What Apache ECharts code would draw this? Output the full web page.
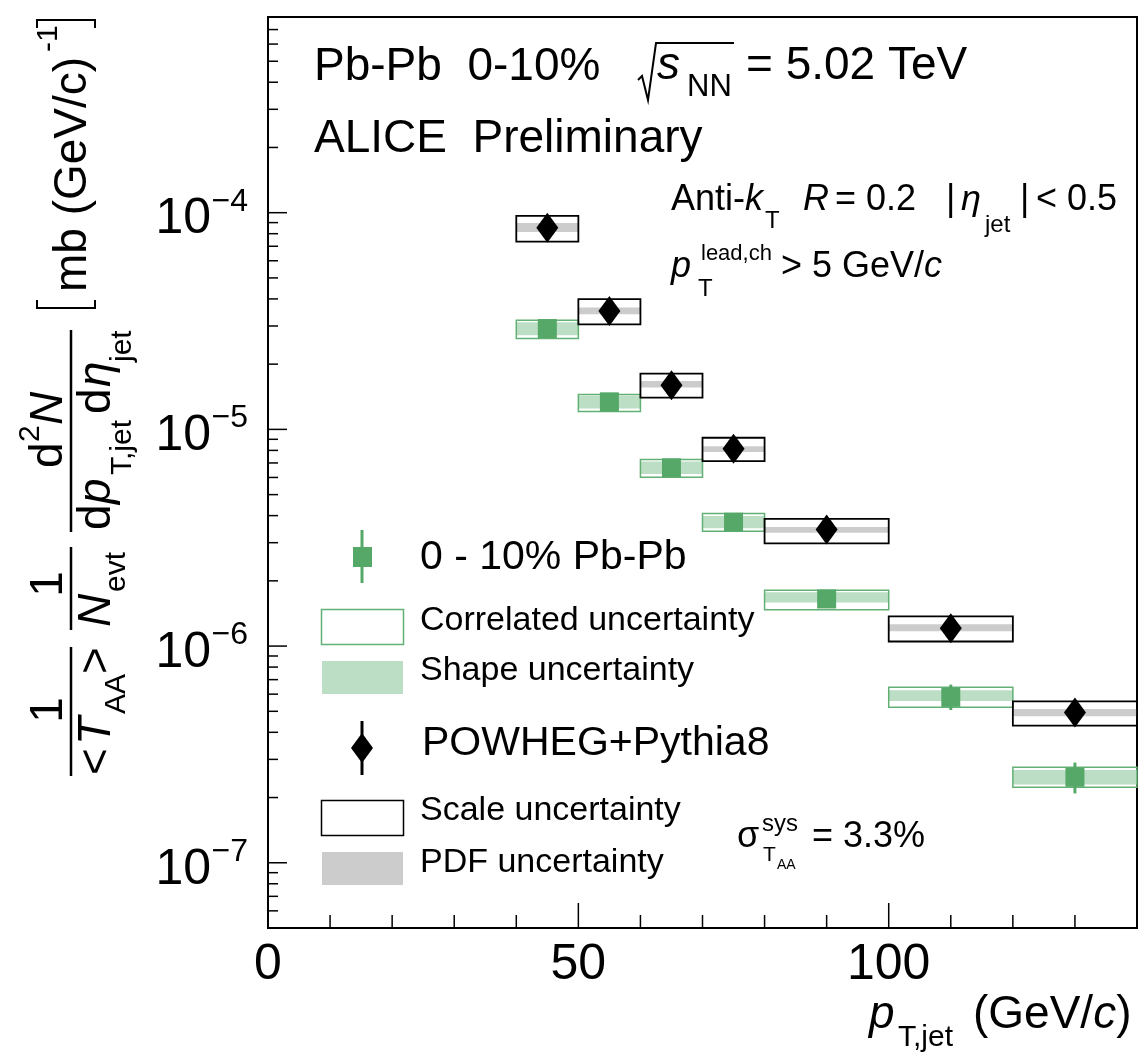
<!DOCTYPE html>
<html><head><meta charset="utf-8">
<script src="https://cdn.jsdelivr.net/npm/echarts@6/dist/echarts.min.js"></script>
<style>html,body{margin:0;padding:0;background:#fff}#c{width:1141px;height:1054px}</style>
</head><body><div id="c"></div>
<script>
// ---- data ----
const binLow    = [40, 50, 60, 70, 80, 100, 120];
const binHigh   = [50, 60, 70, 80, 100, 120, 140];
const binCenter = [45, 55, 65, 75, 90, 110, 130];

const pbpbYield     = [2.92e-5, 1.34e-5, 6.65e-6, 3.73e-6, 1.65e-6, 5.80e-7, 2.48e-7];
const pbpbStatLow   = [2.86e-5, 1.31e-5, 6.52e-6, 3.66e-6, 1.61e-6, 5.07e-7, 2.09e-7];
const pbpbStatHigh  = [2.98e-5, 1.37e-5, 6.78e-6, 3.80e-6, 1.69e-6, 6.64e-7, 2.90e-7];
const pbpbCorrLow   = [2.63e-5, 1.21e-5, 6.02e-6, 3.39e-6, 1.47e-6, 5.22e-7, 2.23e-7];
const pbpbCorrHigh  = [3.19e-5, 1.45e-5, 7.27e-6, 4.09e-6, 1.81e-6, 6.45e-7, 2.76e-7];
const pbpbShapeLow  = [2.72e-5, 1.25e-5, 6.22e-6, 3.50e-6, 1.59e-6, 5.58e-7, 2.30e-7];
const pbpbShapeHigh = [3.12e-5, 1.43e-5, 7.10e-6, 3.98e-6, 1.77e-6, 6.25e-7, 2.68e-7];

const powhegYield     = [8.53e-5, 3.52e-5, 1.60e-5, 8.13e-6, 3.45e-6, 1.21e-6, 4.94e-7];
const powhegScaleLow  = [7.35e-5, 3.05e-5, 1.40e-5, 7.14e-6, 2.98e-6, 1.05e-6, 4.29e-7];
const powhegScaleHigh = [9.66e-5, 3.99e-5, 1.81e-5, 9.15e-6, 3.86e-6, 1.37e-6, 5.56e-7];
const powhegPdfLow    = [8.15e-5, 3.40e-5, 1.56e-5, 7.86e-6, 3.33e-6, 1.17e-6, 4.74e-7];
const powhegPdfHigh   = [8.97e-5, 3.65e-5, 1.67e-5, 8.37e-6, 3.54e-6, 1.26e-6, 5.12e-7];

const xRange = [0, 140];
const yRange = [5e-8, 8e-4];
const xMajorTicks = [0, 50, 100];
const xTickLabels = ['0', '50', '100'];
const xMinorTicks = [10, 20, 30, 40, 60, 70, 80, 90, 110, 120, 130];
const yMajorTicks = [1e-7, 1e-6, 1e-5, 1e-4];
const yTickExponents = ['\u22127', '\u22126', '\u22125', '\u22124'];
const yMinorTicks = [6e-8, 7e-8, 8e-8, 9e-8,
  2e-7, 3e-7, 4e-7, 5e-7, 6e-7, 7e-7, 8e-7, 9e-7,
  2e-6, 3e-6, 4e-6, 5e-6, 6e-6, 7e-6, 8e-6, 9e-6,
  2e-5, 3e-5, 4e-5, 5e-5, 6e-5, 7e-5, 8e-5, 9e-5,
  2e-4, 3e-4, 4e-4, 5e-4, 6e-4, 7e-4];

// ---- style ----
const FF = '"Liberation Sans", Arial, Helvetica, sans-serif';
const GREEN = '#55a868';
const GREEN_LINE = '#62b073';
const GREEN_FILL = '#bcdec4';
const GRAY_FILL = '#cccccc';

function rows(a, b, c, d) { return a.map((v, i) => [v, b[i], c[i], d[i]]); }

function boxRender(style) {
  return function (params, api) {
    const p1 = api.coord([api.value(0), api.value(3)]);
    const p2 = api.coord([api.value(1), api.value(2)]);
    return { type: 'rect', shape: { x: p1[0], y: p1[1], width: p2[0] - p1[0], height: p2[1] - p1[1] }, style: style };
  };
}

function yTickRender(len) {
  return function (params, api) {
    const p = api.coord([xRange[0], api.value(1)]);
    return { type: 'line', shape: { x1: p[0], y1: p[1], x2: p[0] + len, y2: p[1] }, style: { stroke: '#000', lineWidth: 1.5 } };
  };
}
function xTickRender(len) {
  return function (params, api) {
    const p = api.coord([api.value(0), yRange[0]]);
    return { type: 'line', shape: { x1: p[0], y1: p[1], x2: p[0], y2: p[1] - len }, style: { stroke: '#000', lineWidth: 1.5 } };
  };
}

const chart = echarts.init(document.getElementById('c'), null, { renderer: 'canvas' });

// text helper: (x, baseline) in pixels -> middle-aligned text
function T(s, x, base, size, opt) {
  opt = opt || {};
  return {
    type: 'text', x: x, y: base - 0.35 * size, z: 100,
    style: {
      text: s, fontSize: size, fontFamily: FF, fontStyle: opt.italic ? 'italic' : 'normal',
      fill: '#000', align: opt.align || 'left', verticalAlign: 'middle',
      rich: { i: { fontStyle: 'italic', fontSize: size, fontFamily: FF, fill: '#000' } }
    }
  };
}
function L(x1, y1, x2, y2, w, c) {
  return { type: 'line', z: 100, shape: { x1, y1, x2, y2 }, style: { stroke: c || '#000', lineWidth: w || 2 } };
}
function R(x, y, w, h, style) {
  return { type: 'rect', z: 100, shape: { x, y, width: w, height: h }, style: style };
}

// y-axis title (rotated group, local coords)
const yTitleChildren = [
  L(0, 71, 129, 71, 2.5),
  T('1', 66, 65, 46, { align: 'center' }),
  T('<', 1, 113, 46),
  T('T', 31, 113, 46, { italic: true }),
  T('AA', 62, 127, 30),
  T('>', 102, 113, 46),
  L(146, 71, 229, 71, 2.5),
  T('1', 192, 65, 46, { align: 'center' }),
  T('N', 149, 113, 46, { italic: true }),
  T('evt', 184, 127, 30),
  L(244, 71, 446, 71, 2.5),
  T('d', 308, 65, 46),
  T('2', 334, 41, 30),
  T('N', 351, 65, 46, { italic: true }),
  T('d', 246, 113, 46),
  T('p', 272, 113, 46, { italic: true }),
  T('T,jet', 301, 133, 30),
  T('d', 362, 113, 46),
  T('\u03b7', 389, 113, 46, { italic: true }),
  T('jet', 414, 133, 30),
  { type: 'polyline', z: 100, shape: { points: [[476, 37], [468, 37], [468, 95], [476, 95]] }, style: { stroke: '#000', lineWidth: 2, fill: null } },
  T('mb (GeV/c)', 484, 89, 46),
  T('-1', 724, 59, 30),
  { type: 'polyline', z: 100, shape: { points: [[748, 37], [756, 37], [756, 95], [748, 95]] }, style: { stroke: '#000', lineWidth: 2, fill: null } }
];

const graphics = [
  // header
  T('Pb-Pb  0-10%', 314, 83, 46),
  { type: 'polyline', z: 100, shape: { points: [[638, 80], [642, 76], [648, 100], [656, 43], [734, 43]] }, style: { stroke: '#000', lineWidth: 2, fill: null } },
  T('s', 657, 82, 46, { italic: true }),
  T('NN', 687, 98, 31),
  T('= 5.02 TeV', 746, 82, 46),
  T('ALICE  Preliminary', 314, 155, 46),
  T('Anti-', 671, 213, 36),
  T('k', 745, 213, 36, { italic: true }),
  T('T', 765, 230, 24),
  T('R', 803, 213, 36, { italic: true }),
  T('= 0.2', 835, 213, 36),
  T('|', 946, 213, 36),
  T('\u03b7', 961, 213, 36, { italic: true }),
  T('jet', 985, 234, 24),
  T('|', 1020, 213, 36),
  T('< 0.5', 1036, 213, 36),
  T('p', 671, 280, 36, { italic: true }),
  T('lead,ch', 701, 262, 22),
  T('T', 698, 298, 24),
  T('> 5 GeV/{i|c}', 781, 280, 36),
  // sigma
  T('\u03c3', 737, 850, 36),
  T('sys', 762, 833, 24),
  T('T', 763, 863, 21),
  T('AA', 777, 870, 14),
  T('= 3.3%', 812, 850, 36),
  // legend
  L(362, 530, 362, 583, 3, GREEN),
  R(353, 547, 19, 20, { fill: GREEN }),
  T('0 - 10% Pb-Pb', 420, 572, 41),
  R(321.5, 609.5, 82, 35, { fill: null, stroke: GREEN_LINE, lineWidth: 1.5 }),
  T('Correlated uncertainty', 420, 633, 34),
  R(322, 661, 81, 33, { fill: GREEN_FILL }),
  T('Shape uncertainty', 420, 683, 34),
  L(362, 721, 362, 775, 3, '#000'),
  { type: 'polygon', z: 101, shape: { points: [[362, 733], [373, 748], [362, 763], [351, 748]] }, style: { fill: '#000' } },
  T('POWHEG+Pythia8', 422, 758, 41),
  R(321.5, 800.5, 82, 35, { fill: null, stroke: '#000', lineWidth: 1.5 }),
  T('Scale uncertainty', 420, 823, 34),
  R(322, 852, 81, 33, { fill: GRAY_FILL }),
  T('PDF uncertainty', 420, 875, 34),
  // x title
  T('p', 869, 1031, 46, { italic: true }),
  T('T,jet', 898, 1048, 30),
  T('(GeV/{i|c})', 973, 1031, 46),
  // y title
  { type: 'group', x: 0, y: 776, rotation: Math.PI / 2, children: yTitleChildren }
];

const option = {
  animation: false,
  backgroundColor: '#fff',
  grid: { left: 268, top: 17, width: 869, height: 911, show: true, borderColor: '#000', borderWidth: 2, backgroundColor: 'transparent' },
  xAxis: { type: 'value', min: xRange[0], max: xRange[1], show: true, axisLine: { show: false }, axisTick: { show: false }, axisLabel: { show: false }, splitLine: { show: false } },
  yAxis: { type: 'log', logBase: 10, min: yRange[0], max: yRange[1], show: true, axisLine: { show: false }, axisTick: { show: false }, axisLabel: { show: false }, splitLine: { show: false } },
  graphic: graphics,
  series: [
    { type: 'custom', name: 'PDF uncertainty', z: 2, clip: false, encode: { x: [0, 1], y: [2, 3] },
      data: rows(binLow, binHigh, powhegPdfLow, powhegPdfHigh),
      renderItem: boxRender({ fill: GRAY_FILL }) },
    { type: 'custom', name: 'Shape uncertainty', z: 2, clip: false, encode: { x: [0, 1], y: [2, 3] },
      data: rows(binLow, binHigh, pbpbShapeLow, pbpbShapeHigh),
      renderItem: boxRender({ fill: GREEN_FILL }) },
    { type: 'custom', name: 'Correlated uncertainty', z: 3, clip: false, encode: { x: [0, 1], y: [2, 3] },
      data: rows(binLow, binHigh, pbpbCorrLow, pbpbCorrHigh),
      renderItem: boxRender({ fill: null, stroke: GREEN_LINE, lineWidth: 1.5 }) },
    { type: 'custom', name: 'Scale uncertainty', z: 3, clip: false, encode: { x: [0, 1], y: [2, 3] },
      data: rows(binLow, binHigh, powhegScaleLow, powhegScaleHigh),
      renderItem: boxRender({ fill: null, stroke: '#000', lineWidth: 1.8 }) },
    { type: 'custom', name: 'stat', z: 4, clip: false, encode: { x: 0, y: [1, 2] },
      data: binCenter.map((x, i) => [x, pbpbStatLow[i], pbpbStatHigh[i]]),
      renderItem: function (params, api) {
        const a = api.coord([api.value(0), api.value(1)]);
        const b = api.coord([api.value(0), api.value(2)]);
        return { type: 'line', shape: { x1: a[0], y1: a[1], x2: b[0], y2: b[1] }, style: { stroke: GREEN, lineWidth: 3 } };
      } },
    { type: 'scatter', name: '0 - 10% Pb-Pb', z: 5, symbol: 'rect', symbolSize: [19, 19],
      itemStyle: { color: GREEN, opacity: 1 }, data: binCenter.map((x, i) => [x, pbpbYield[i]]) },
    { type: 'scatter', name: 'POWHEG+Pythia8', z: 5, symbol: 'diamond', symbolSize: [22, 30],
      itemStyle: { color: '#000', opacity: 1 }, data: binCenter.map((x, i) => [x, powhegYield[i]]) },
    // axis ticks
    { type: 'custom', z: 6, clip: false, silent: true, data: yMajorTicks.map(v => [xRange[0], v]), renderItem: yTickRender(19) },
    { type: 'custom', z: 6, clip: false, silent: true, data: yMinorTicks.map(v => [xRange[0], v]), renderItem: yTickRender(10) },
    { type: 'custom', z: 6, clip: false, silent: true, data: xMajorTicks.map(v => [v, yRange[0]]), renderItem: xTickRender(25) },
    { type: 'custom', z: 6, clip: false, silent: true, data: xMinorTicks.map(v => [v, yRange[0]]), renderItem: xTickRender(13) },
    // tick labels
    { type: 'custom', z: 6, clip: false, silent: true, data: xMajorTicks.map(v => [v, yRange[0]]),
      renderItem: function (params, api) {
        const p = api.coord([api.value(0), yRange[0]]);
        return { type: 'text', x: p[0], y: p[1] + 37, style: { text: xTickLabels[params.dataIndex], fontSize: 50, fontFamily: FF, fill: '#000', align: 'center', verticalAlign: 'middle' } };
      } },
    { type: 'custom', z: 6, clip: false, silent: true, data: yMajorTicks.map(v => [xRange[0], v]),
      renderItem: function (params, api) {
        const p = api.coord([xRange[0], api.value(1)]);
        return { type: 'group', children: [
          { type: 'text', x: p[0] - 20, y: p[1] - 11, style: { text: yTickExponents[params.dataIndex], fontSize: 32, fontFamily: FF, fill: '#000', align: 'right', verticalAlign: 'middle' } },
          { type: 'text', x: p[0] - 57, y: p[1] + 7, style: { text: '10', fontSize: 50, fontFamily: FF, fill: '#000', align: 'right', verticalAlign: 'middle' } }
        ] };
      } }
  ]
};
chart.setOption(option);
</script>
</body></html>
